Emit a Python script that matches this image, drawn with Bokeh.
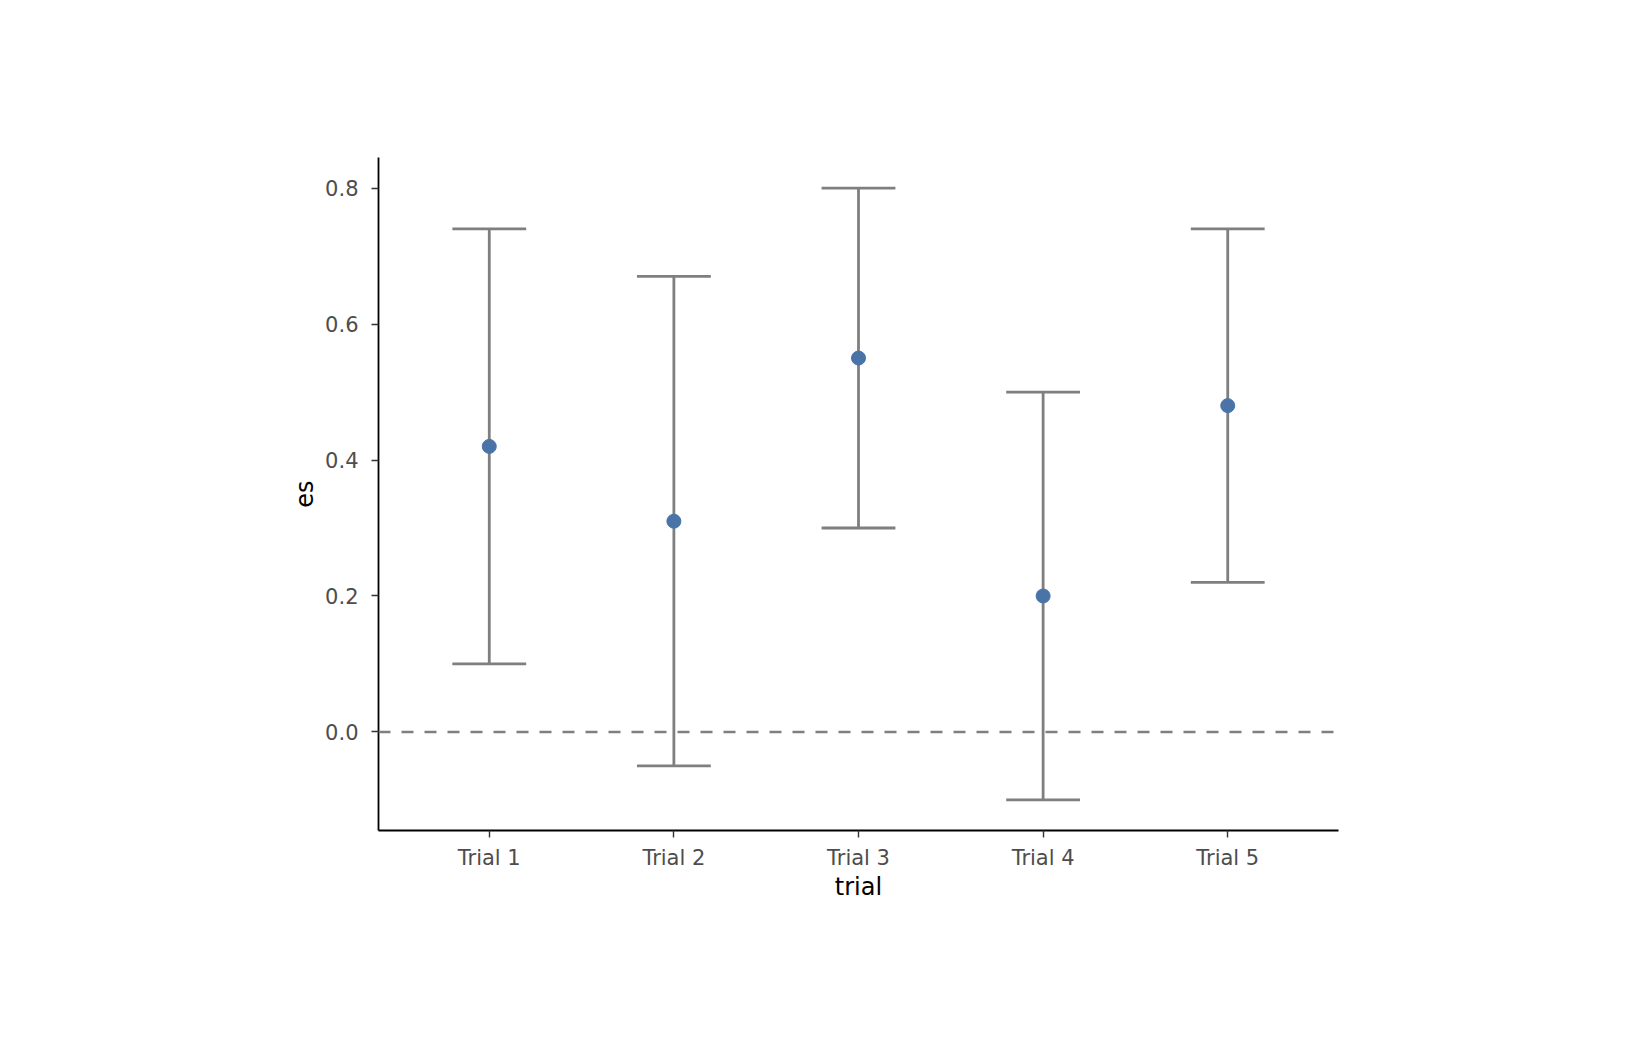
from bokeh.plotting import figure
from bokeh.models import ColumnDataSource, FactorRange, Span, CustomJSTickFormatter
from bokeh.transform import dodge
from bokeh.embed import file_html
from bokeh.resources import INLINE

trials = ["Trial 1", "Trial 2", "Trial 3", "Trial 4", "Trial 5"]
es = [0.42, 0.31, 0.55, 0.20, 0.48]
lower = [0.10, -0.05, 0.30, -0.10, 0.22]
upper = [0.74, 0.67, 0.80, 0.50, 0.74]
y_ticks = [0.0, 0.2, 0.4, 0.6, 0.8]

src = ColumnDataSource(dict(trial=trials, es=es, lo=lower, hi=upper))

FONT = "DejaVu Sans"
BL, BT, FW, FH = 378, 157, 960, 673
W, H = 1600, 1030
p = figure(x_range=FactorRange(*trials, range_padding=0.04, range_padding_units="percent"),
           y_range=(-0.145, 0.845),
           width=W, height=H, output_backend="svg", toolbar_location=None,
           min_border_left=BL, min_border_top=BT,
           min_border_right=W - BL - FW, min_border_bottom=H - BT - FH)

p.outline_line_color = None
p.grid.visible = False
p.background_fill_color = "white"

zero = Span(location=0, dimension="width", line_color="#7f7f7f", line_width=2.6, line_dash="12 11")
p.add_layout(zero)

LW = 2.8
p.segment(x0="trial", y0="lo", x1="trial", y1="hi", source=src, line_color="#7f7f7f", line_width=LW)
p.segment(x0=dodge("trial", -0.2, range=p.x_range), y0="lo",
          x1=dodge("trial", 0.2, range=p.x_range), y1="lo", source=src, line_color="#7f7f7f", line_width=LW)
p.segment(x0=dodge("trial", -0.2, range=p.x_range), y0="hi",
          x1=dodge("trial", 0.2, range=p.x_range), y1="hi", source=src, line_color="#7f7f7f", line_width=LW)
p.scatter(x="trial", y="es", source=src, size=14, color="#4a74a8")

p.yaxis.ticker = y_ticks
p.yaxis.formatter = CustomJSTickFormatter(code="return tick.toFixed(1);")

for ax in (p.xaxis[0], p.yaxis[0]):
    ax.axis_line_color = "#000000"
    ax.axis_line_width = 1.8
    ax.major_tick_line_color = "#333333"
    ax.major_tick_line_width = 1.4
    ax.major_tick_out = 7
    ax.major_tick_in = 0
    ax.minor_tick_line_color = None
    ax.major_label_text_font = FONT
    ax.major_label_text_font_size = "21px"
    ax.major_label_text_color = "#4d4d4d"
    ax.axis_label_text_font = FONT
    ax.axis_label_text_font_size = "24px"
    ax.axis_label_text_font_style = "normal"
    ax.axis_label_text_color = "#000000"

p.xaxis.major_label_standoff = 8
p.yaxis.major_label_standoff = 13
p.xaxis.axis_label = "trial"
p.yaxis.axis_label = "es"
p.xaxis.axis_label_standoff = 0
p.yaxis.axis_label_standoff = 3

open("out.html", "w").write(file_html(p, INLINE))
